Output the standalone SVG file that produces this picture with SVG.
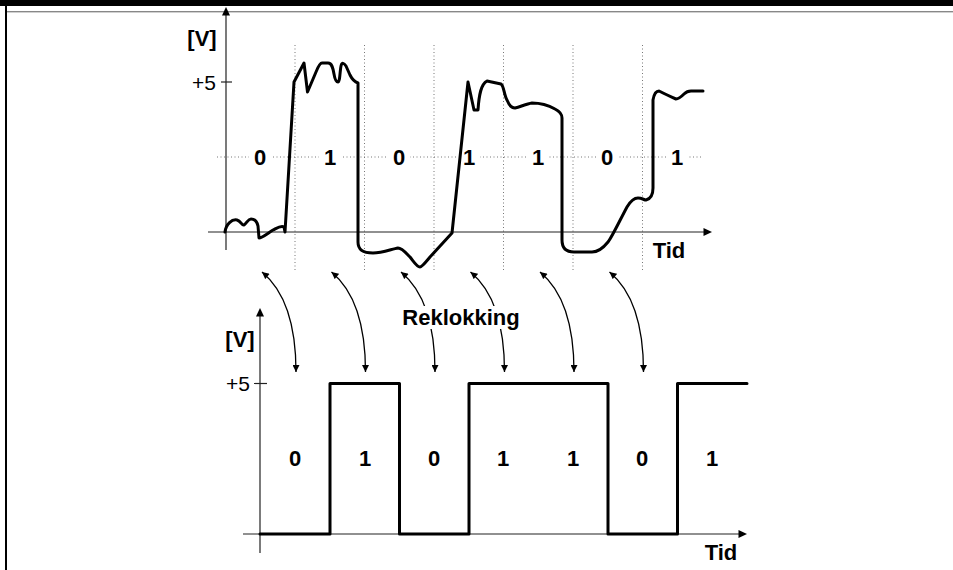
<svg xmlns="http://www.w3.org/2000/svg" width="953" height="570" viewBox="0 0 953 570">
  <style>
    .lbl { font-family: "Liberation Sans", Arial, sans-serif; font-size: 22px; font-weight: bold; fill: #000; }
    .num { font-family: "Liberation Sans", Arial, sans-serif; font-size: 21px; fill: #000; }
    .axis { stroke: #222; stroke-width: 1.2; fill: none; }
    .grid { stroke: #777; stroke-width: 1; stroke-dasharray: 1 2.5; fill: none; }
    .wave { stroke: #000; stroke-width: 3; fill: none; stroke-linejoin: round; stroke-linecap: round; }
    .clk { stroke: #000; stroke-width: 1.3; fill: none; marker-start: url(#tip); marker-end: url(#tip); }
    .bg { fill: #fff; }
  </style>
  <defs>
    <marker id="tip" viewBox="0 0 10 10" refX="10" refY="5" markerUnits="userSpaceOnUse" markerWidth="8" markerHeight="7" orient="auto-start-reverse">
      <path d="M0,0 L10,5 L0,10 z" fill="#000"/>
    </marker>
  </defs>

  <rect width="953" height="570" fill="#fff"/>

  <!-- frame -->
  <g id="frame">
    <rect x="0" y="0" width="953" height="6" fill="#000"/>
    <rect x="5" y="6" width="2" height="564" fill="#000"/>
    <line x1="7" y1="11.5" x2="953" y2="11.5" stroke="#888" stroke-width="1"/>
    <line x1="7" y1="12.5" x2="953" y2="12.5" stroke="#d0d0d0" stroke-width="1"/>
  </g>

  <!-- upper plot: received analog signal -->
  <g id="upper-axes">
    <g class="grid">
      <line x1="295" y1="45" x2="295" y2="270"/>
      <line x1="364.5" y1="45" x2="364.5" y2="270"/>
      <line x1="434" y1="45" x2="434" y2="270"/>
      <line x1="503.5" y1="45" x2="503.5" y2="270"/>
      <line x1="573" y1="45" x2="573" y2="270"/>
      <line x1="642.5" y1="45" x2="642.5" y2="270"/>
      <line x1="217" y1="157" x2="703" y2="157"/>
    </g>
    <line class="axis" x1="226" y1="14" x2="226" y2="250"/>
    <polygon points="226,7 222,15.5 230,15.5" fill="#000"/>
    <line class="axis" x1="208" y1="232" x2="705" y2="232"/>
    <polygon points="712,232 703.5,228 703.5,236" fill="#000"/>
    <line class="axis" x1="221" y1="82" x2="232" y2="82"/>
    <text class="lbl" x="202" y="46" text-anchor="middle">[V]</text>
    <text class="num" x="216" y="89.5" text-anchor="end">+5</text>
    <text class="lbl" x="669" y="258" text-anchor="middle">Tid</text>
  </g>

  <g id="upper-bits">
    <rect class="bg" x="249" y="147" width="22" height="20"/>
    <rect class="bg" x="319" y="147" width="22" height="20"/>
    <rect class="bg" x="388" y="147" width="22" height="20"/>
    <rect class="bg" x="458" y="147" width="22" height="20"/>
    <rect class="bg" x="527" y="147" width="22" height="20"/>
    <rect class="bg" x="596" y="147" width="22" height="20"/>
    <rect class="bg" x="666" y="147" width="22" height="20"/>
    <text class="lbl" x="260" y="165" text-anchor="middle">0</text>
    <text class="lbl" x="330" y="165" text-anchor="middle">1</text>
    <text class="lbl" x="399" y="165" text-anchor="middle">0</text>
    <text class="lbl" x="469" y="165" text-anchor="middle">1</text>
    <text class="lbl" x="538" y="165" text-anchor="middle">1</text>
    <text class="lbl" x="607" y="165" text-anchor="middle">0</text>
    <text class="lbl" x="677" y="165" text-anchor="middle">1</text>
  </g>

  <g id="analog-signal">
    <path class="wave" d="M225,232 C226,224 232,219 237,220 C241,221 242,226 244,225 C247,223 248,219 251,219 C255,219 257,221 258,226 L259,238 C262,238 268,233 273,230 C277,228 281,225 284,227 L285,232
      L294,82 L304,63 L307.5,92 L316,72 C318,67 320,63 322,63 L328,63 C332,63 333,68 334,74 C335,80 336,82 338,82 C340,82 340,70 341,66 C342,62 344,63 346,66 L350,75 C352,79 355,82 358,83
      L358,242 C358,250 363,253 373,253 C382,253 392,249 398,248 C402,248 406,253 410,257 C414,262 417,267 420,267 C422,267 425,263 430,257 L452,233
      L468,82 L474,110 L478,110 C479,95 481,84 487,81 L501,84 C504,86 504,95 507,100 C509,105 512,108 515,108 C520,107 526,104 532,103 C540,103 548,105 555,109 C559,111 562,114 562,118
      L562,240 C562,248 566,252 574,252 L592,252 C598,252 604,247 608,242 C612,237 620,220 627,207 C630,202 633,198 638,198 C642,198 644,200 646,200 C650,199 653,195 653,188
      L653,100 C654,94 656,91 659,91 C663,93 669,96 676,99 C679,99 682,96 684,94 C686,92 688,91 691,91 L703,91"/>
  </g>

  <!-- reclocking arrows -->
  <g id="connectors">
    <path class="clk" d="M262,272 Q296,300 296,372"/>
    <path class="clk" d="M331.5,272 Q365.5,300 365.5,372"/>
    <path class="clk" d="M401,272 Q435,300 435,372"/>
    <path class="clk" d="M470.5,272 Q504.5,300 504.5,372"/>
    <path class="clk" d="M540,272 Q574,300 574,372"/>
    <path class="clk" d="M609.5,272 Q643.5,300 643.5,372"/>
  </g>

  <g id="reklokking-label">
    <rect class="bg" x="400" y="306" width="122" height="23"/>
    <text class="lbl" x="461" y="325" text-anchor="middle">Reklokking</text>
  </g>

  <!-- lower plot: regenerated digital signal -->
  <g id="lower-axes">
    <line class="axis" x1="260" y1="315" x2="260" y2="553"/>
    <polygon points="260,308 256,316.5 264,316.5" fill="#000"/>
    <line class="axis" x1="243" y1="534" x2="740" y2="534"/>
    <polygon points="747,534 738.5,530 738.5,538" fill="#000"/>
    <line class="axis" x1="254" y1="383.5" x2="267" y2="383.5"/>
    <text class="lbl" x="240" y="347" text-anchor="middle">[V]</text>
    <text class="num" x="250" y="391" text-anchor="end">+5</text>
    <text class="lbl" x="721" y="560" text-anchor="middle">Tid</text>
  </g>

  <g id="digital-signal">
    <path class="wave" stroke-linecap="butt" stroke-linejoin="miter" d="M260,534 L330,534 L330,383.5 L399.5,383.5 L399.5,534 L469,534 L469,383.5 L608,383.5 L608,534 L677.5,534 L677.5,383.5 L747,383.5"/>
  </g>

  <g id="lower-bits">
    <text class="lbl" x="295" y="466" text-anchor="middle">0</text>
    <text class="lbl" x="365" y="466" text-anchor="middle">1</text>
    <text class="lbl" x="434" y="466" text-anchor="middle">0</text>
    <text class="lbl" x="503" y="466" text-anchor="middle">1</text>
    <text class="lbl" x="573" y="466" text-anchor="middle">1</text>
    <text class="lbl" x="642" y="466" text-anchor="middle">0</text>
    <text class="lbl" x="712" y="466" text-anchor="middle">1</text>
  </g>
</svg>
